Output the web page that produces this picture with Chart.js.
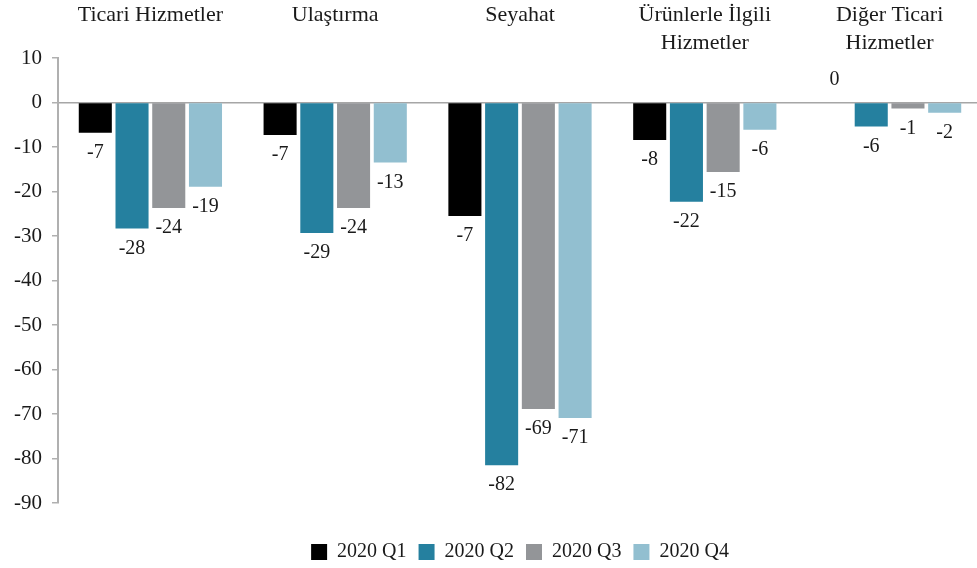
<!DOCTYPE html>
<html>
<head>
<meta charset="utf-8">
<script src="https://cdn.jsdelivr.net/npm/chart.js@4/dist/chart.umd.min.js"></script>
<style>
  html, body { margin: 0; padding: 0; background: #fff; overflow: hidden; }
  #wrap { width: 977px; height: 568px; overflow: hidden; }
</style>
</head>
<body>
<div id="wrap"><canvas id="servicesChart" width="982" height="572"></canvas></div>
<script>
var categories = [
  "Ticari Hizmetler",
  "Ulaştırma",
  "Seyahat",
  ["Ürünlerle İlgili", "Hizmetler"],
  ["Diğer Ticari", "Hizmetler"],
];
var seriesNames = ["2020 Q1", "2020 Q2", "2020 Q3", "2020 Q4"];

// bar heights
var q1Values = [-6.8, -7.3, -25.5, -8.4, 0];
var q2Values = [-28.3, -29.3, -81.5, -22.3, -5.4];
var q3Values = [-23.7, -23.7, -68.9, -15.6, -1.35];
var q4Values = [-18.95, -13.5, -70.9, -6.1, -2.3];

// value labels exactly as printed on the chart
var q1Labels = ["-7", "-7", "-7", "-8", "0"];
var q2Labels = ["-28", "-29", "-82", "-22", "-6"];
var q3Labels = ["-24", "-24", "-69", "-15", "-1"];
var q4Labels = ["-19", "-13", "-71", "-6", "-2"];

var yMin = -90;
var yMax = 10;
var yStep = 10;

var colors = ["#000000", "#25809f", "#939598", "#92bfd0"];
var textColor = "#1a1a1a";

Chart.defaults.font.family = "'Liberation Serif', 'DejaVu Serif', serif";
Chart.defaults.color = textColor;

var barLabelPlugin = {
  id: "barLabels",
  afterDatasetsDraw: function (chart) {
    var ctx = chart.ctx;
    ctx.save();
    ctx.font = "20px 'Liberation Serif'";
    ctx.fillStyle = textColor;
    ctx.textAlign = "center";
    ctx.textBaseline = "middle";
    chart.data.datasets.forEach(function (ds, i) {
      var meta = chart.getDatasetMeta(i);
      meta.data.forEach(function (bar, j) {
        var v = ds.data[j];
        var y = v < 0 ? bar.y + 20 : bar.y - 23;
        ctx.fillText(ds.valueLabels[j], bar.x, y);
      });
    });
    ctx.restore();
  },
};

var allValues = [q1Values, q2Values, q3Values, q4Values];
var allLabels = [q1Labels, q2Labels, q3Labels, q4Labels];
var datasets = seriesNames.map(function (name, i) {
  return {
    label: name,
    data: allValues[i],
    valueLabels: allLabels[i],
    backgroundColor: colors[i],
    borderWidth: 0,
    categoryPercentage: 0.795,
    barPercentage: 0.9,
  };
});

var ctx = document.getElementById("servicesChart").getContext("2d");
var servicesChart = new Chart(ctx, {
  type: "bar",
  data: { labels: categories, datasets: datasets },
  plugins: [barLabelPlugin],
  options: {
    responsive: false,
    animation: false,
    layout: { padding: { top: 0, left: 4, right: 0, bottom: 0 } },
    plugins: {
      tooltip: { enabled: false },
      legend: {
        position: "bottom",
        fullSize: false,
        title: {
          display: true,
          text: "",
          font: { size: 10, lineHeight: 1 },
          padding: { top: 17, bottom: 0 },
        },
        labels: {
          boxWidth: 16,
          boxHeight: 16,
          padding: 12,
          color: textColor,
          font: { size: 20 },
        },
      },
    },
    scales: {
      x: {
        position: "top",
        grid: { display: false, drawTicks: false },
        border: { display: false },
        ticks: {
          autoSkip: false,
          maxRotation: 0,
          crossAlign: "far",
          padding: 1,
          color: textColor,
          font: { size: 22, lineHeight: 28 / 22 },
        },
      },
      y: {
        min: yMin,
        max: yMax,
        z: 1,
        border: { display: true, color: "#b0b0b0", width: 2 },
        grid: {
          color: function (c) {
            return c.tick && c.tick.value === 0 ? "#a6a6a6" : "rgba(0,0,0,0)";
          },
          lineWidth: 1.5,
          tickColor: "#b0b0b0",
          tickLength: 6,
          tickWidth: 1.5,
        },
        ticks: {
          stepSize: yStep,
          padding: 10,
          color: textColor,
          font: { size: 21 },
        },
      },
    },
  },
});
</script>
</body>
</html>
